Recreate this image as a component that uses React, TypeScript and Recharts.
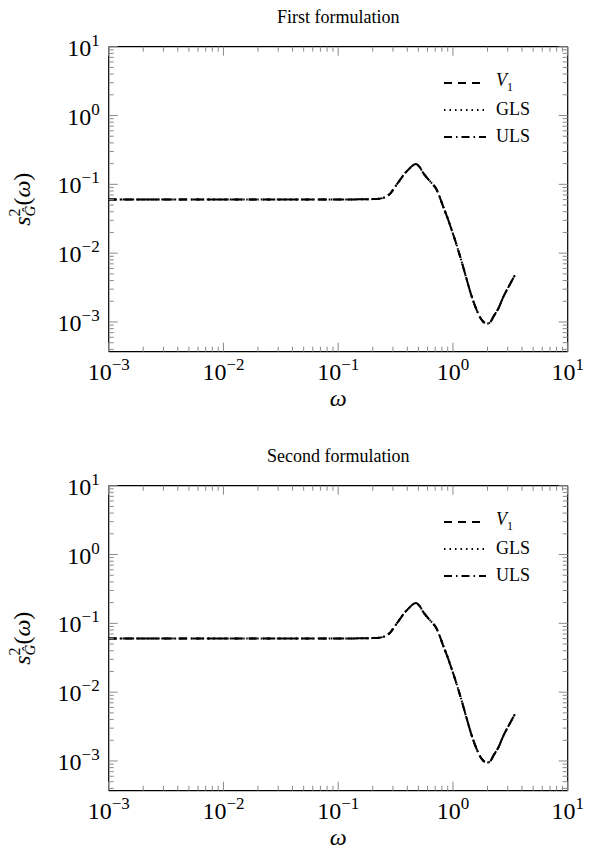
import React from 'react'
import { LineChart, Line, XAxis, YAxis, Legend } from 'recharts'

const FONT = '"Liberation Serif", "DejaVu Serif", serif'

// omega grid and the curve values (both panels look the same)
const omega = [
  0.001, 0.003, 0.01, 0.03, 0.1, 0.15, 0.2, 0.23, 0.26, 0.285,
  0.31, 0.345, 0.375, 0.41, 0.44, 0.476, 0.515, 0.55, 0.6, 0.65,
  0.72, 0.77, 0.82, 0.9, 0.975, 1.05, 1.11, 1.2, 1.32, 1.45,
  1.61, 1.73, 1.84, 1.99, 2.12, 2.25, 2.5, 2.75, 3.1, 3.47,
]
const v1Values = [
  0.06, 0.06, 0.06, 0.06, 0.06, 0.0605, 0.061, 0.0618, 0.066, 0.074,
  0.09, 0.115, 0.14, 0.164, 0.185, 0.197, 0.176, 0.147, 0.122, 0.105,
  0.084, 0.064, 0.048, 0.032, 0.0217, 0.015, 0.0111, 0.0072, 0.0041, 0.0024,
  0.00149, 0.00115, 0.00101, 0.00095, 0.001, 0.00119, 0.0016, 0.00232, 0.0034, 0.0048,
]
const glsValues = [
  0.06, 0.06, 0.06, 0.06, 0.06, 0.0605, 0.061, 0.0618, 0.066, 0.074,
  0.09, 0.115, 0.14, 0.164, 0.185, 0.197, 0.176, 0.147, 0.122, 0.105,
  0.084, 0.064, 0.048, 0.032, 0.0217, 0.015, 0.0111, 0.0072, 0.0041, 0.0024,
  0.00149, 0.00115, 0.00101, 0.00095, 0.001, 0.00119, 0.0016, 0.00232, 0.0034, 0.0048,
]
const ulsValues = [
  0.06, 0.06, 0.06, 0.06, 0.06, 0.0605, 0.061, 0.0618, 0.066, 0.074,
  0.09, 0.115, 0.14, 0.164, 0.185, 0.197, 0.176, 0.147, 0.122, 0.105,
  0.084, 0.064, 0.048, 0.032, 0.0217, 0.015, 0.0111, 0.0072, 0.0041, 0.0024,
  0.00149, 0.00115, 0.00101, 0.00095, 0.001, 0.00119, 0.0016, 0.00232, 0.0034, 0.0048,
]

const titles = ['First formulation', 'Second formulation']

const xDecades = [0.001, 0.01, 0.1, 1, 10]
const yDecades = [0.001, 0.01, 0.1, 1, 10]
const minorSteps = [2, 3, 4, 5, 6, 7, 8, 9]

const X_DOMAIN = [0.001, 10]
const Y_DOMAIN = [3.7e-4, 10]

const series = [
  { key: 'v1', name: 'V1', dash: '8 6' },
  { key: 'gls', name: 'GLS', dash: '1.5 4' },
  { key: 'uls', name: 'ULS', dash: '8 4 1.5 4' },
]

const data = omega.map((w, i) => ({ omega: w, v1: v1Values[i], gls: glsValues[i], uls: ulsValues[i] }))

const withMinors = (majors: number[], lo: number, hi: number) => {
  const out: number[] = [...majors]
  const decs = [majors[0] / 10, ...majors]
  decs.forEach((d) => minorSteps.forEach((s) => {
    const v = Number((d * s).toPrecision(6))
    if (v >= lo && v <= hi) out.push(v)
  }))
  return out.sort((a, b) => a - b)
}
const xTicks = withMinors(xDecades, X_DOMAIN[0], X_DOMAIN[1])
const yTicks = withMinors(yDecades, Y_DOMAIN[0], Y_DOMAIN[1])

const isMajor = (v: number) => Math.abs(Math.log10(v) - Math.round(Math.log10(v))) < 1e-9
const expText = (v: number) => {
  const e = Math.round(Math.log10(v))
  return e < 0 ? '\u2212' + Math.abs(e) : String(e)
}

const TICK = '#8a8a8a'
const MAJOR = 9
const MINOR = 5
const svgFont = { fontFamily: FONT }

const PowerLabel = ({ x, y, v, anchor }: any) => (
  <text x={x} y={y} textAnchor={anchor} style={svgFont} fontSize={24} fill="#000">
    <tspan>10</tspan>
    <tspan dy={-10} fontSize={17}>{expText(v)}</tspan>
  </text>
)

const xTickBottom = (p: any) => {
  const v = p.payload.value
  const major = isMajor(v)
  return (
    <g>
      <line x1={p.x} x2={p.x} y1={p.y} y2={p.y - (major ? MAJOR : MINOR)} stroke={TICK} />
      {major && <PowerLabel x={p.x} y={p.y + 28} v={v} anchor="middle" />}
    </g>
  )
}
const xTickTop = (p: any) => {
  const major = isMajor(p.payload.value)
  return <line x1={p.x} x2={p.x} y1={p.y} y2={p.y + (major ? MAJOR : MINOR)} stroke={TICK} />
}
const yTickLeft = (p: any) => {
  const v = p.payload.value
  const major = isMajor(v)
  return (
    <g>
      <line x1={p.x} x2={p.x + (major ? MAJOR : MINOR)} y1={p.y} y2={p.y} stroke={TICK} />
      {major && <PowerLabel x={p.x - 9} y={p.y + 9} v={v} anchor="end" />}
    </g>
  )
}
const yTickRight = (p: any) => {
  const major = isMajor(p.payload.value)
  return <line x1={p.x} x2={p.x - (major ? MAJOR : MINOR)} y1={p.y} y2={p.y} stroke={TICK} />
}

const xLabel = (p: any) => {
  const vb = p.viewBox
  return (
    <text x={vb.x + vb.width / 2} y={vb.y + 54} textAnchor="middle" style={svgFont} fontStyle="italic" fontSize={24}>
      ω
    </text>
  )
}
const yLabel = (p: any) => {
  const vb = p.viewBox
  const cy = vb.y + vb.height / 2
  return (
    <text transform={`translate(30, ${cy}) rotate(-90)`} textAnchor="middle" style={svgFont} fontSize={24}>
      <tspan fontStyle="italic">s</tspan>
      <tspan dy={-10} fontSize={16}>2</tspan>
      <tspan dx={-8} dy={15} fontSize={15} fontStyle="italic">Ĝ</tspan>
      <tspan dy={-5}>(</tspan>
      <tspan fontStyle="italic">ω</tspan>
      <tspan>)</tspan>
    </text>
  )
}

const LegendBox = () => (
  <div style={{ fontFamily: FONT, fontSize: 18, color: '#000' }}>
    {series.map((s) => (
      <div key={s.key} style={{ display: 'flex', alignItems: 'center', height: 27 }}>
        <svg width={42} height={6}>
          <line x1={0} x2={42} y1={3} y2={3} stroke="#000" strokeWidth={2} strokeDasharray={s.dash} />
        </svg>
        <span style={{ marginLeft: 10 }}>
          {s.key === 'v1' ? (
            <>
              <i>V</i>
              <sub style={{ fontSize: 12 }}>1</sub>
            </>
          ) : (
            s.name
          )}
        </span>
      </div>
    ))}
  </div>
)

const axisLine = { stroke: '#000', strokeWidth: 1.2 }

// plot box edges in pixels (each axis strip is 1px deep)
const PLOT_LEFT = 108.7
const PLOT_RIGHT = 567.7
const PLOT_TOP = 46.7
const PLOT_BOTTOM = 351.7

function FormulationChart({ title, height }: { title: string; height: number }) {
  return (
    <div style={{ position: 'relative', width: 590, height }}>
      <LineChart
        width={590}
        height={height}
        data={data}
        margin={{ top: PLOT_TOP - 1, right: 590 - PLOT_RIGHT - 1, left: PLOT_LEFT - 1, bottom: height - PLOT_BOTTOM - 1 }}
      >
        <XAxis
          xAxisId="b" dataKey="omega" type="number" scale="log" domain={X_DOMAIN} allowDataOverflow
          ticks={xTicks} interval={0} height={1} tickSize={0} tickMargin={0} tickLine={false}
          axisLine={axisLine} tick={xTickBottom} label={xLabel}
        />
        <XAxis
          xAxisId="t" orientation="top" dataKey="omega" type="number" scale="log" domain={X_DOMAIN} allowDataOverflow
          ticks={xTicks} interval={0} height={1} tickSize={0} tickMargin={0} tickLine={false}
          axisLine={axisLine} tick={xTickTop}
        />
        <YAxis
          yAxisId="l" type="number" scale="log" domain={Y_DOMAIN} allowDataOverflow
          ticks={yTicks} interval={0} width={1} tickSize={0} tickMargin={0} tickLine={false}
          axisLine={axisLine} tick={yTickLeft} label={yLabel}
        />
        <YAxis
          yAxisId="r" orientation="right" type="number" scale="log" domain={Y_DOMAIN} allowDataOverflow
          ticks={yTicks} interval={0} width={1} tickSize={0} tickMargin={0} tickLine={false}
          axisLine={axisLine} tick={yTickRight}
        />
        <Legend
          layout="vertical" align="center" verticalAlign="middle"
          content={<LegendBox />}
          wrapperStyle={{ left: 444, top: 69, width: 140 }}
        />
        {series.map((s) => (
          <Line
            key={s.key}
            xAxisId="b"
            yAxisId="l"
            type="monotone"
            dataKey={s.key}
            name={s.name}
            stroke="#000"
            strokeWidth={2}
            strokeDasharray={s.dash}
            dot={false}
            activeDot={false}
            isAnimationActive={false}
          />
        ))}
      </LineChart>
      <div
        style={{
          position: 'absolute', top: 7, left: PLOT_LEFT, width: PLOT_RIGHT - PLOT_LEFT, textAlign: 'center',
          fontFamily: FONT, fontSize: 18, color: '#000', pointerEvents: 'none',
        }}
      >
        {title}
      </div>
    </div>
  )
}

export default function App() {
  return (
    <div style={{ position: 'absolute', left: 0, top: 0, width: 590, height: 852, background: '#fff' }}>
      <FormulationChart title={titles[0]} height={439} />
      <FormulationChart title={titles[1]} height={413} />
    </div>
  )
}
